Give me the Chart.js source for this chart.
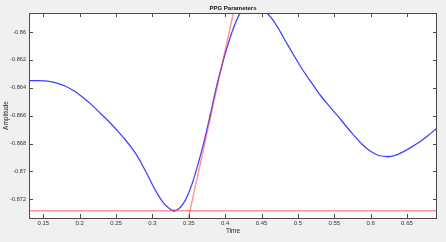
<!DOCTYPE html>
<html>
<head>
<meta charset="utf-8">
<script src="https://cdn.jsdelivr.net/npm/chart.js@4.4.1/dist/chart.umd.min.js"></script>
<style>
html,body{margin:0;padding:0;background:#f0f0f0;}
#wrap{width:446px;height:242px;}
</style>
</head>
<body>
<div id="wrap"><canvas id="c" width="446" height="242"></canvas></div>
<script>
// PPG signal (time, amplitude)
const timeValues = [0.1303,0.14133,0.15234,0.16197,0.17063,0.18122,0.19360,0.20461,0.21658,0.22799,0.23941,0.25096,0.26238,0.27201,0.28067,0.28755,0.29443,0.30131,0.30818,0.31465,0.32152,0.32978,0.33597,0.34257,0.34904,0.35633,0.36279,0.36988,0.37930,0.38852,0.39539,0.40227,0.41135,0.42057,0.43019,0.43982,0.44945,0.45495,0.46637,0.47558,0.48480,0.49622,0.50764,0.51919,0.53061,0.54203,0.55358,0.56500,0.57642,0.58797,0.59939,0.61039,0.62373,0.63377,0.64519,0.65674,0.66816,0.67917,0.69113];
const amplitudeValues = [-0.86349,-0.86349,-0.86351,-0.86358,-0.86370,-0.86391,-0.86427,-0.86470,-0.86523,-0.86581,-0.86638,-0.86703,-0.86771,-0.86835,-0.86903,-0.86968,-0.87036,-0.87108,-0.87172,-0.87222,-0.87258,-0.87282,-0.87270,-0.87229,-0.87165,-0.87061,-0.86946,-0.86810,-0.86599,-0.86384,-0.86244,-0.86117,-0.85973,-0.85866,-0.85828,-0.85814,-0.85832,-0.85853,-0.85918,-0.85996,-0.86082,-0.86183,-0.86280,-0.86367,-0.86452,-0.86525,-0.86595,-0.86667,-0.86738,-0.86803,-0.86854,-0.86884,-0.86894,-0.86885,-0.86858,-0.86824,-0.86786,-0.86742,-0.86690];
// Baseline (horizontal) line
const baselineX = [0.1303,0.6913];
const baselineY = [-0.87282,-0.87282];
// Tangent line at max slope
const tangentX = [0.3495,0.4113];
const tangentY = [-0.87334,-0.85864];
// Marked points
const markerX = [0.3298,0.3793,0.6237];
const markerY = [-0.87282,-0.86599,-0.86894];
const markerColors = ['#e05050','#c0c060','#f0b040'];
// Axes
const xTicks = [0.15,0.2,0.25,0.3,0.35,0.4,0.45,0.5,0.55,0.6,0.65];
const yTicks = [-0.872,-0.87,-0.868,-0.866,-0.864,-0.862,-0.86];
const xRange = [0.1303,0.6913];
const yRange = [-0.87334,-0.85864];

const toPts = (xs, ys) => xs.map((x,i)=>({x:x,y:ys[i]}));

const frame = {
  id:'frame',
  beforeDraw(chart){
    const {ctx, chartArea:a} = chart;
    ctx.save();
    ctx.fillStyle = '#ffffff';
    ctx.fillRect(a.left, a.top, a.right-a.left, a.bottom-a.top);
    ctx.restore();
  },
  afterDraw(chart){
    const {ctx, chartArea:a, scales} = chart;
    ctx.save();
    ctx.strokeStyle = '#4a4a4a';
    ctx.lineWidth = 1;
    ctx.strokeRect(a.left+0.5, a.top+0.5, a.right-a.left-1, a.bottom-a.top);
    const L = 4;
    ctx.beginPath();
    xTicks.forEach(v=>{
      const px = Math.round(scales.x.getPixelForValue(v))+0.5;
      ctx.moveTo(px, a.bottom); ctx.lineTo(px, a.bottom-L);
      ctx.moveTo(px, a.top); ctx.lineTo(px, a.top+L);
    });
    yTicks.forEach(v=>{
      const py = Math.round(scales.y.getPixelForValue(v))+0.5;
      ctx.moveTo(a.left, py); ctx.lineTo(a.left+L, py);
      ctx.moveTo(a.right, py); ctx.lineTo(a.right-L, py);
    });
    ctx.stroke();
    ctx.fillStyle = '#111';
    ctx.font = 'bold 6px "Liberation Sans", Arial, sans-serif';
    ctx.textAlign = 'center';
    ctx.textBaseline = 'middle';
    ctx.fillText('PPG Parameters', (a.left+a.right)/2, 8);
    ctx.restore();
  }
};

new Chart(document.getElementById('c'), {
  type:'scatter',
  data:{
    datasets:[
      {data:toPts(baselineX, baselineY), showLine:true, borderColor:'rgba(255,60,60,0.55)', borderWidth:1.4, pointRadius:0},
      {data:toPts(tangentX, tangentY), showLine:true, borderColor:'rgba(255,60,60,0.55)', borderWidth:1.4, pointRadius:0},
      {data:toPts(timeValues, amplitudeValues), showLine:true, borderColor:'#3f3fff', borderWidth:1.25, pointRadius:0, cubicInterpolationMode:'monotone'},
      {data:toPts(markerX, markerY), showLine:false, pointRadius:1.3, pointBackgroundColor:markerColors, pointBorderWidth:0}
    ]
  },
  options:{
    responsive:false,
    animation:false,
    layout:{padding:{top:13,right:9,left:0,bottom:0}},
    plugins:{legend:{display:false}, title:{display:false}, tooltip:{enabled:false}},
    scales:{
      x:{
        type:'linear', min:xRange[0], max:xRange[1],
        afterBuildTicks(s){ s.ticks = xTicks.map(v=>({value:v})); },
        afterFit(s){ s.height = 24; },
        grid:{display:false, drawTicks:false},
        border:{display:false},
        ticks:{padding:2, color:'#333', font:{size:6, family:'"Liberation Sans", Arial, sans-serif'}, callback:(v)=>String(v), maxRotation:0, autoSkip:false},
        title:{display:true, text:'Time', color:'#222', font:{size:6.5, family:'"Liberation Sans", Arial, sans-serif'}, padding:{top:0,bottom:7}}
      },
      y:{
        type:'linear', min:yRange[0], max:yRange[1],
        afterBuildTicks(s){ s.ticks = yTicks.map(v=>({value:v})); },
        afterFit(s){ s.width = 29; },
        grid:{display:false, drawTicks:false},
        border:{display:false},
        ticks:{padding:3, color:'#333', font:{size:5.6, family:'"Liberation Sans", Arial, sans-serif'}, callback:(v)=>String(v), autoSkip:false},
        title:{display:true, text:'Amplitude', color:'#222', font:{size:6.5, family:'"Liberation Sans", Arial, sans-serif'}, padding:{top:2.5,bottom:0}}
      }
    }
  },
  plugins:[frame]
});
</script>
</body>
</html>
